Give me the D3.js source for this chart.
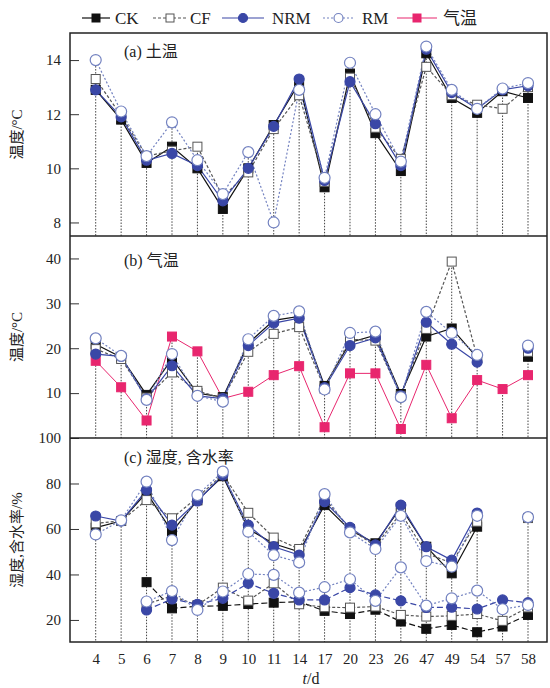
<!DOCTYPE html>
<html>
<head>
<meta charset="utf-8">
<script src="https://cdn.jsdelivr.net/npm/d3@7"></script>
<style>
  body { margin: 0; background: #fff; }
  svg text { font-family: "Liberation Serif", "Noto Sans CJK SC", serif; fill: #222; }
</style>
</head>
<body>
<div id="g1"></div>
<script>
// 资料: t/d
var days = [4,5,6,7,8,9,10,11,14,17,20,23,26,47,49,54,57,58];

// (a) 土温
var soilCK  = [12.9,11.8,10.2,10.8,10.0,8.5,10.0,11.6,13.15,9.3,13.5,11.3,9.9,14.25,12.6,12.05,12.85,12.6];
var soilCF  = [13.3,11.95,10.45,10.65,10.8,8.95,9.85,11.45,12.7,9.5,13.35,11.5,10.35,13.75,12.7,12.35,12.2,13.0];
var soilNRM = [12.9,11.9,10.3,10.55,10.1,8.8,10.0,11.55,13.3,9.55,13.2,11.65,10.1,14.4,12.8,12.2,12.9,13.05];
var soilRM  = [14.0,12.1,10.45,11.7,10.3,9.05,10.6,8.0,12.9,9.65,13.9,12.0,10.25,14.5,12.9,12.2,12.95,13.15];

// (b) 气温
var airCK  = [20.9,18.0,9.6,17.6,10.0,9.1,21.1,26.2,27.1,11.6,21.3,22.9,9.8,22.6,24.4,17.9,null,18.1];
var airCF  = [19.8,17.6,9.0,14.6,10.5,8.8,19.2,23.2,24.7,11.0,22.0,21.7,9.4,24.3,39.3,18.0,null,19.2];
var airNRM = [18.7,18.2,8.7,16.1,9.4,8.8,20.6,25.6,26.7,11.2,20.6,22.3,9.4,25.8,20.9,16.9,null,20.0];
var airRM  = [22.2,18.3,8.5,18.7,9.4,8.1,22.0,27.2,28.2,10.8,23.4,23.7,9.1,28.1,23.4,18.5,null,20.6];
var airT   = [17.2,11.3,3.9,22.6,19.3,8.8,10.3,14.0,16.0,2.4,14.4,14.4,2.0,16.3,4.4,12.9,10.9,14.0];

// (c) 湿度
var humCK  = [60.6,63.5,76,58.8,72.6,83.2,60,53.5,50,70.5,59.5,53.7,69.5,52.2,40.5,61.0,null,null];
var humCF  = [62.5,63.5,72.7,64.7,73.9,84,67.1,56.2,51.2,73.5,60,52.5,67,49.3,45,63.2,null,64.8];
var humNRM = [65.7,63.5,77.1,61.7,72.3,83.7,61.7,52.2,48.5,72,60.7,53,70.5,52.2,46.3,67,null,null];
var humRM  = [57.6,63.8,80.8,55.1,74.9,85.2,58.8,48.5,45.3,75.3,58.5,51.2,65.8,45.9,43.4,65.8,null,65.2];
// (c) 含水率
var wcCK  = [null,null,36.6,25.1,26,26.2,27,27.6,28,24,22.6,24.5,19.3,16.1,17.8,14.6,17.1,22.2];
var wcCF  = [null,null,27,30.5,26.5,34.2,28.5,36.1,26.9,25.6,25.4,25.9,22.2,21.5,21.8,22.6,19.6,25.5];
var wcNRM = [null,null,24.4,29.2,26.9,29.5,36.1,31.7,28.8,28.8,34.2,31,28.4,25.5,25.6,24.8,28.8,27.6];
var wcRM  = [null,null,28.1,32.7,24.4,32.5,40.2,39.8,32,34.4,37.9,28.4,43.1,26.3,29.5,32.9,24.7,26.6];

var ticksA = [8,10,12,14], ticksB = [10,20,30,40], ticksC = [20,40,60,80,100];

var w = 550, h = 688;
var left = 70, right = 547;
var svg = d3.select("#g1").append("svg").attr("width", w).attr("height", h);

var x = d3.scalePoint().domain(days).range([95.7, 528]);

// 样式
var sty = {
  CK:  {color:"#111", dash:null,  shape:"sq",  fill:"#111"},
  CF:  {color:"#555", dash:"3,2", shape:"sq",  fill:"#fff"},
  NRM: {color:"#3a47a6", dash:null, shape:"ci", fill:"#3a47a6"},
  RM:  {color:"#7382c0", dash:"2,2", shape:"ci", fill:"#fff"},
  T:   {color:"#e8266e", dash:null, shape:"sq", fill:"#e8266e"}
};

var panels = [
  {top:33, bottom:236, dom:[7.5,15], ticks:ticksA, title:"(a) 土温", ty:57,
   series:[["CK",soilCK],["CF",soilCF],["NRM",soilNRM],["RM",soilRM]]},
  {top:236, bottom:438, dom:[0,45], ticks:ticksB, title:"(b) 气温", ty:266,
   series:[["T",airT],["CK",airCK],["CF",airCF],["NRM",airNRM],["RM",airRM]]},
  {top:438, bottom:642, dom:[10.3,100], ticks:ticksC, title:"(c) 湿度, 含水率", ty:463,
   series:[["CK",humCK],["CF",humCF],["NRM",humNRM],["RM",humRM],
           ["CK",wcCK,"6,3"],["CF",wcCF],["NRM",wcNRM,"6,3"],["RM",wcRM]]}
];

panels.forEach(function(p){
  var y = d3.scaleLinear().domain(p.dom).range([p.bottom, p.top]);
  var g = svg.append("g");

  // 竖虚线
  days.forEach(function(d, i){
    var mx = d3.max(p.series, function(s){ return s[1][i]; });
    if (mx == null) return;
    g.append("line").attr("x1", x(d)).attr("x2", x(d))
      .attr("y1", y(mx)).attr("y2", p.bottom)
      .style("stroke", "#444").style("stroke-width", 1).style("stroke-dasharray", "1.5,1.5");
  });

  var line = d3.line()
    .defined(function(v){ return v != null; })
    .x(function(v, i){ return x(days[i]); })
    .y(function(v){ return y(v); });

  p.series.forEach(function(s){
    var st = sty[s[0]];
    g.append("path").datum(s[1]).attr("d", line)
      .style("fill", "none").style("stroke", st.color).style("stroke-width", s[0] == "T" ? 1 : 1.2)
      .style("stroke-dasharray", s[2] || st.dash);
  });

  p.series.forEach(function(s){
    var st = sty[s[0]];
    var pts = s[1].map(function(v, i){ return [days[i], v]; }).filter(function(d){ return d[1] != null; });
    if (st.shape == "sq") {
      g.selectAll(null).data(pts).enter().append("rect")
        .attr("x", function(d){ return x(d[0]) - 4.5; })
        .attr("y", function(d){ return y(d[1]) - 4.5; })
        .attr("width", 9).attr("height", 9)
        .style("fill", st.fill).style("stroke", st.color).style("stroke-width", 1);
    } else {
      g.selectAll(null).data(pts).enter().append("circle")
        .attr("cx", function(d){ return x(d[0]); })
        .attr("cy", function(d){ return y(d[1]); })
        .attr("r", s[0] == "RM" ? 5.5 : 5)
        .style("fill", st.fill).style("stroke", st.color).style("stroke-width", 1.2);
    }
  });

  var ax = g.append("g").attr("transform", "translate(" + left + ",0)")
    .call(d3.axisLeft(y).tickValues(p.ticks).tickSizeInner(-9).tickSizeOuter(0).tickPadding(9));
  ax.select(".domain").remove();
  ax.selectAll("line").style("stroke", "#333");
  ax.selectAll("text").style("font-size", "15px").style("font-family", "Liberation Serif");

  g.append("text").attr("x", 124).attr("y", p.ty).style("font-size", "16px").text(p.title);

  g.append("text")
    .attr("transform", "translate(22," + ((p.top + p.bottom) / 2) + ") rotate(-90)")
    .attr("text-anchor", "middle").style("font-size", "15px")
    .text(p === panels[2] ? "湿度,含水率/%" : "温度/°C");
});

// 框
svg.append("rect").attr("x", left).attr("y", 33).attr("width", right - left).attr("height", 642 - 33)
  .style("fill", "none").style("stroke", "#222").style("stroke-width", 1.5);
[236, 438].forEach(function(yy){
  svg.append("line").attr("x1", left).attr("x2", right).attr("y1", yy).attr("y2", yy)
    .style("stroke", "#222").style("stroke-width", 1.5);
});

// x 轴
var xa = svg.append("g").attr("transform", "translate(0,642)")
  .call(d3.axisBottom(x).tickSize(0).tickPadding(11));
xa.select(".domain").remove();
xa.selectAll("text").style("font-size", "15px").style("font-family", "Liberation Serif");

var xt = svg.append("text").attr("x", 311).attr("y", 684).attr("text-anchor", "middle").style("font-size", "16px");
xt.append("tspan").style("font-style", "italic").text("t");
xt.append("tspan").text("/d");

// 图例
var legend = [["CK", 82, 110, 115], ["CF", 153, 187, 190], ["NRM", 222, 264, 272], ["RM", 323, 354, 362], ["T", 397, 437, 443]];
var names = {CK:"CK", CF:"CF", NRM:"NRM", RM:"RM", T:"气温"};
legend.forEach(function(l){
  var st = sty[l[0]], cx = (l[1] + l[2]) / 2, ly = 18;
  svg.append("line").attr("x1", l[1]).attr("x2", l[2]).attr("y1", ly).attr("y2", ly)
    .style("stroke", st.color).style("stroke-width", 1.2).style("stroke-dasharray", st.dash);
  if (st.shape == "sq")
    svg.append("rect").attr("x", cx - 4).attr("y", ly - 4).attr("width", 8).attr("height", 8)
      .style("fill", st.fill).style("stroke", st.color);
  else
    svg.append("circle").attr("cx", cx).attr("cy", ly).attr("r", 4.5)
      .style("fill", st.fill).style("stroke", st.color).style("stroke-width", 1.2);
  svg.append("text").attr("x", l[3]).attr("y", ly + 6).style("font-size", "17px").text(names[l[0]]);
});
</script>
</body>
</html>
